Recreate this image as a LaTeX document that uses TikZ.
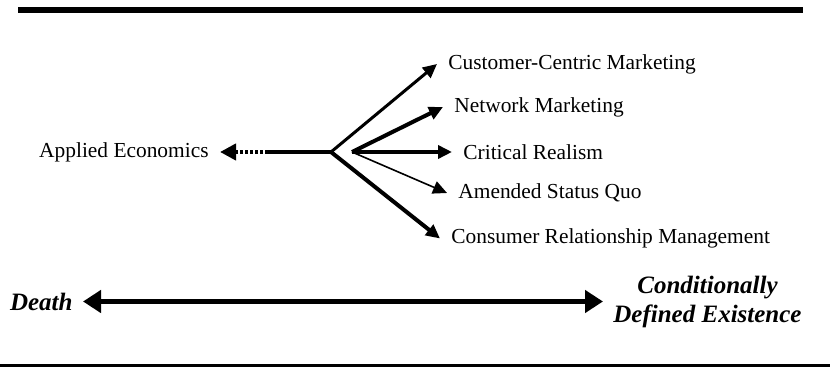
\documentclass[tikz,border=0pt]{standalone}
\usepackage{fontspec}
\setmainfont{Liberation Serif}
\usetikzlibrary{arrows.meta,positioning}
\tikzstyle{lbl}=[inner xsep=5.5pt, inner ysep=1pt, font=\fontsize{10.7}{12}\selectfont]
\tikzstyle{pole}=[inner xsep=5pt, inner ysep=1pt, align=center,
  font=\fontsize{12.5}{14.5}\selectfont\bfseries\itshape]
\tikzstyle{fan}=[-{Triangle[length=7pt,width=6.5pt]}]
\tikzstyle{span}=[{Triangle[length=9pt,width=11pt]}-{Triangle[length=9pt,width=11pt]}, line width=2.5pt]

\begin{document}
\begin{tikzpicture}[x=0.5pt,y=-0.5pt]
\useasboundingbox (0,0) rectangle (830,367);
% top and bottom rules
\fill (18,7) rectangle (803,13);
\fill (0,364) rectangle (830,367);

\coordinate (hub) at (331,152);
\coordinate (fork) at (352,152);
\coordinate (dots) at (268,152);

\node (applied) [lbl, anchor=east] at (220,152) {Applied Economics};
\node (ccm) [lbl, anchor=west] at (437,64) {Customer-Centric Marketing};
\node (nm) [lbl, anchor=west] at (443,107) {Network Marketing};
\node (cr) [lbl, anchor=west] at (452,152) {Critical Realism};
\node (asq) [lbl, anchor=west] at (447,193) {Amended Status Quo};
\node (crm) [lbl, anchor=west] at (440,238.5) {Consumer Relationship Management};

\node (death) [pole, anchor=east] at (83,301.5) {Death};
\node (exist) [pole, anchor=west] at (603,301.5) {Conditionally\\Defined Existence};

\draw[line width=2pt] (hub)--(dots);
\draw[line width=2pt, dash pattern=on 1.5pt off 1pt, -{Triangle[length=8pt,width=8pt]}] (dots)--(applied.east);
\draw[fan, line width=1.5pt] (hub)--(ccm.west);
\draw[fan, line width=2pt] (fork)--(nm.west);
\draw[fan, line width=2pt] (fork)--(cr.west);
\draw[fan, line width=0.8pt] (fork)--(asq.west);
\draw[fan, line width=2pt] (hub)--(crm.west);
\draw[span] (death.east)--(exist.west);
\end{tikzpicture}
\end{document}
